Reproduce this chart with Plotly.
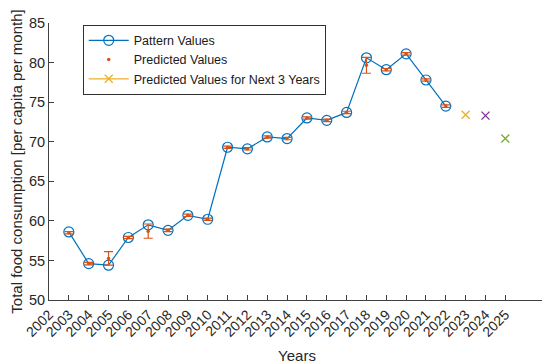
import plotly.graph_objects as go

# Data
x_idx = list(range(1, 21))
pattern_values = [58.6, 54.6, 54.4, 57.9, 59.5, 58.8, 60.7, 60.2, 69.3, 69.1,
                  70.6, 70.4, 73.0, 72.7, 73.7, 80.6, 79.1, 81.1, 77.8, 74.5]
predicted_values = [58.5, 54.6, 55.25, 57.9, 58.7, 58.8, 60.7, 60.2, 69.3, 69.1,
                    70.6, 70.4, 73.0, 72.7, 73.7, 79.65, 79.1, 81.1, 77.8, 74.5]
predicted_err = [0.15, 0.15, 0.85, 0.15, 0.9, 0.15, 0.15, 0.15, 0.15, 0.15,
                 0.15, 0.15, 0.15, 0.15, 0.15, 1.0, 0.15, 0.15, 0.15, 0.15]
future_x = [21, 22, 23]
future_values = [73.4, 73.3, 70.4]
future_colors = ["#EDB120", "#7E2F8E", "#77AC30"]
tick_vals = list(range(0, 24))
tick_labels = [str(y) for y in range(2002, 2026)]
y_ticks = [50, 55, 60, 65, 70, 75, 80, 85]

FONT = "Liberation Sans, Arial, sans-serif"
AX = "#404040"

fig = go.Figure()
fig.add_trace(go.Scatter(
    x=x_idx, y=pattern_values, mode="lines+markers", name="Pattern Values",
    line=dict(color="#0072BD", width=1.2),
    marker=dict(symbol="circle-open", size=10, color="#0072BD", line=dict(width=1.2)),
))
fig.add_trace(go.Scatter(
    x=x_idx, y=predicted_values, mode="markers", name="Predicted Values",
    marker=dict(symbol="circle", size=3.5, color="#D95319"),
    error_y=dict(type="data", array=predicted_err, visible=True,
                 color="#D95319", thickness=1.2, width=4.5),
))
for i, (fx, fv, fc) in enumerate(zip(future_x, future_values, future_colors)):
    fig.add_trace(go.Scatter(
        x=[fx], y=[fv], mode="lines+markers",
        name="Predicted Values for Next 3 Years",
        showlegend=(i == 0),
        line=dict(color=fc, width=1.2),
        marker=dict(symbol="x-thin-open", size=8, color=fc, line=dict(width=1.3, color=fc)),
    ))

# The page body keeps an 8px default margin, so the figure is 8px smaller.
fig.update_layout(
    width=542, height=356,
    margin=dict(l=41, r=5, t=15, b=64),
    paper_bgcolor="white", plot_bgcolor="white",
    font=dict(family=FONT, size=14, color="#262626"),
    showlegend=True,
    legend=dict(
        x=0.068, y=0.994, xanchor="left", yanchor="top",
        bgcolor="white", bordercolor="#303030", borderwidth=1,
        font=dict(family=FONT, size=12.5, color="#1a1a1a"),
        tracegroupgap=0, itemwidth=40,
    ),
    xaxis=dict(
        range=[0, 25], tickmode="array", tickvals=tick_vals, ticktext=tick_labels,
        tickangle=-45, ticks="inside", ticklen=5, tickcolor=AX,
        showline=True, linecolor=AX, linewidth=1, showgrid=False, zeroline=False,
        tickfont=dict(size=14, color="#262626"), automargin=False,
        title=dict(text="Years", font=dict(size=15, color="#262626")),
    ),
    yaxis=dict(
        range=[50, 85], tickmode="array", tickvals=y_ticks,
        ticks="inside", ticklen=5, tickcolor=AX,
        showline=True, linecolor=AX, linewidth=1, showgrid=False, zeroline=False,
        tickfont=dict(size=14.5, color="#262626"), automargin=False,
        title=dict(text="Total food consumption [per capita per month]",
                   font=dict(size=15, color="#262626")),
    ),
)

fig.write_html("out.html")
